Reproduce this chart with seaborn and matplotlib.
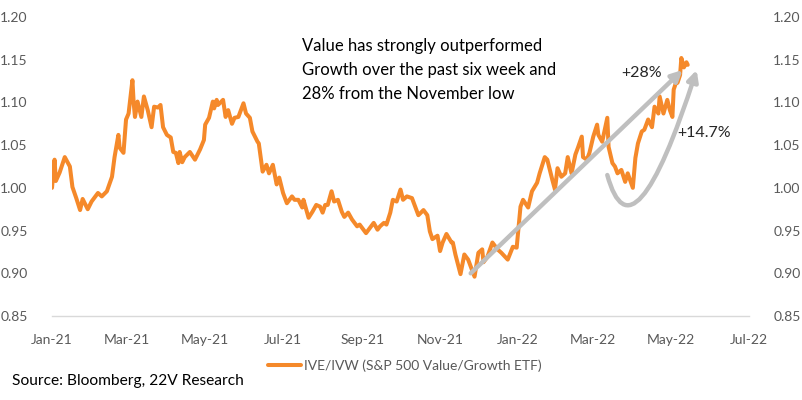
import matplotlib
matplotlib.use("Agg")
import matplotlib.pyplot as plt
import matplotlib.dates as mdates
from matplotlib.patches import FancyArrowPatch
from matplotlib.path import Path
import seaborn as sns
import pandas as pd

# IVE/IVW ratio
dates = [
    "2021-01-01", "2021-01-03", "2021-01-04", "2021-01-07", "2021-01-11", "2021-01-15",
    "2021-01-17", "2021-01-20", "2021-01-23", "2021-01-25", "2021-01-29", "2021-02-01",
    "2021-02-06", "2021-02-09", "2021-02-13", "2021-02-17", "2021-02-19", "2021-02-22",
    "2021-02-23", "2021-02-26", "2021-02-28", "2021-03-02", "2021-03-05", "2021-03-06",
    "2021-03-07", "2021-03-09", "2021-03-10", "2021-03-12", "2021-03-14", "2021-03-17",
    "2021-03-20", "2021-03-22", "2021-03-25", "2021-03-27", "2021-03-29", "2021-04-01",
    "2021-04-04", "2021-04-06", "2021-04-08", "2021-04-10", "2021-04-11", "2021-04-13",
    "2021-04-15", "2021-04-19", "2021-04-23", "2021-04-27", "2021-04-30", "2021-05-01",
    "2021-05-04", "2021-05-07", "2021-05-08", "2021-05-10", "2021-05-11", "2021-05-15",
    "2021-05-17", "2021-05-19", "2021-05-22", "2021-05-24", "2021-05-27", "2021-05-31",
    "2021-06-02", "2021-06-05", "2021-06-07", "2021-06-11", "2021-06-12", "2021-06-15",
    "2021-06-18", "2021-06-20", "2021-06-23", "2021-06-26", "2021-06-28", "2021-07-01",
    "2021-07-04", "2021-07-08", "2021-07-10", "2021-07-13", "2021-07-16", "2021-07-17",
    "2021-07-21", "2021-07-24", "2021-07-27", "2021-07-30", "2021-08-01", "2021-08-03",
    "2021-08-05", "2021-08-08", "2021-08-10", "2021-08-13", "2021-08-16", "2021-08-18",
    "2021-08-21", "2021-08-24", "2021-08-28", "2021-08-30", "2021-09-04", "2021-09-07",
    "2021-09-10", "2021-09-13", "2021-09-15", "2021-09-18", "2021-09-20", "2021-09-23",
    "2021-09-25", "2021-09-28", "2021-10-01", "2021-10-03", "2021-10-06", "2021-10-10",
    "2021-10-12", "2021-10-15", "2021-10-19", "2021-10-22", "2021-10-24", "2021-10-26",
    "2021-10-30", "2021-11-01", "2021-11-03", "2021-11-06", "2021-11-10", "2021-11-11",
    "2021-11-13", "2021-11-17", "2021-11-20", "2021-11-23", "2021-11-26", "2021-11-28",
    "2021-12-01", "2021-12-04", "2021-12-05", "2021-12-08", "2021-12-12", "2021-12-16",
    "2021-12-19", "2021-12-24", "2021-12-28", "2021-12-31", "2022-01-03", "2022-01-05",
    "2022-01-09", "2022-01-12", "2022-01-16", "2022-01-18", "2022-01-22", "2022-01-24",
    "2022-01-28", "2022-01-30", "2022-02-01", "2022-02-04", "2022-02-07", "2022-02-09",
    "2022-02-12", "2022-02-15", "2022-02-17", "2022-02-20", "2022-02-21", "2022-02-24",
    "2022-02-26", "2022-03-01", "2022-03-04", "2022-03-05", "2022-03-08", "2022-03-12",
    "2022-03-13", "2022-03-16", "2022-03-18", "2022-03-20", "2022-03-23", "2022-03-26",
    "2022-03-28", "2022-04-01", "2022-04-03", "2022-04-05", "2022-04-08", "2022-04-10",
    "2022-04-13", "2022-04-16", "2022-04-18", "2022-04-21", "2022-04-22", "2022-04-25",
    "2022-04-28", "2022-04-30", "2022-05-02", "2022-05-03", "2022-05-05", "2022-05-06",
    "2022-05-08", "2022-05-09", "2022-05-11", "2022-05-13", "2022-05-14",
]
ratio = [
    1.000, 1.033, 1.008, 1.018, 1.036, 1.025,
    1.001, 0.988, 0.974, 0.987, 0.975, 0.984,
    0.994, 0.990, 0.996, 1.013, 1.036, 1.062,
    1.047, 1.041, 1.080, 1.087, 1.126, 1.099,
    1.083, 1.101, 1.095, 1.083, 1.107, 1.091,
    1.071, 1.095, 1.094, 1.097, 1.071, 1.062,
    1.059, 1.042, 1.041, 1.029, 1.042, 1.030,
    1.036, 1.042, 1.033, 1.045, 1.056, 1.074,
    1.082, 1.101, 1.093, 1.103, 1.097, 1.103,
    1.083, 1.091, 1.075, 1.082, 1.083, 1.099,
    1.087, 1.082, 1.066, 1.054, 1.052, 1.019,
    1.027, 1.017, 1.027, 1.004, 1.012, 0.994,
    0.982, 0.990, 0.986, 0.986, 0.977, 0.986,
    0.965, 0.972, 0.980, 0.978, 0.971, 0.980,
    0.980, 0.996, 0.984, 0.986, 0.972, 0.966,
    0.971, 0.963, 0.955, 0.957, 0.947, 0.953,
    0.959, 0.951, 0.955, 0.959, 0.957, 0.971,
    0.986, 0.984, 0.998, 0.986, 0.990, 0.988,
    0.980, 0.968, 0.974, 0.968, 0.949, 0.940,
    0.944, 0.926, 0.936, 0.946, 0.936, 0.936,
    0.922, 0.899, 0.922, 0.916, 0.904, 0.896,
    0.924, 0.928, 0.913, 0.919, 0.936, 0.928,
    0.924, 0.916, 0.931, 0.930, 0.978, 0.986,
    0.977, 0.996, 1.006, 1.017, 1.036, 1.033,
    1.009, 0.998, 1.023, 1.013, 1.017, 1.036,
    1.017, 1.039, 1.047, 1.060, 1.036, 1.033,
    1.041, 1.060, 1.074, 1.062, 1.054, 1.082,
    1.048, 1.029, 1.025, 1.017, 1.021, 1.007,
    1.017, 1.000, 1.035, 1.052, 1.066, 1.068,
    1.080, 1.071, 1.095, 1.087, 1.107, 1.087,
    1.103, 1.091, 1.083, 1.115, 1.124, 1.123,
    1.132, 1.152, 1.141, 1.147, 1.144,
]
series_name = "IVE/IVW (S&P 500 Value/Growth ETF)"
y_ticks = [0.85, 0.90, 0.95, 1.00, 1.05, 1.10, 1.15, 1.20]

df = pd.DataFrame({"Date": pd.to_datetime(dates), "Ratio": ratio})

sns.set_style("white")
plt.rcParams['font.family'] = ['Lato', 'DejaVu Sans']

ORANGE = "#F5892A"
GREY = "#BFBFBF"
TICK = "#595959"

fig = plt.figure(figsize=(8.02, 4.00), dpi=100)
ax = fig.add_axes([52 / 802, 1 - 316 / 400, (749 - 52) / 802, (316 - 17) / 400])

sns.lineplot(data=df, x="Date", y="Ratio", ax=ax, color=ORANGE, linewidth=2.9,
             label=series_name)

ax.set_xlim(pd.Timestamp("2021-01-01"), pd.Timestamp("2022-07-01"))
ax.set_ylim(0.85, 1.20)
ax.set_yticks(y_ticks)
ax.set_yticklabels([f"{t:.2f}" for t in y_ticks])
ax.xaxis.set_major_locator(mdates.MonthLocator(bymonth=[1, 3, 5, 7, 9, 11]))
ax.xaxis.set_major_formatter(mdates.DateFormatter("%b-%y"))
ax.set_xlabel("")
ax.set_ylabel("")

for side in ["top", "left", "right"]:
    ax.spines[side].set_visible(False)
ax.spines["bottom"].set_color("#D9D9D9")
ax.spines["bottom"].set_linewidth(1.0)
ax.tick_params(axis="x", direction="out", length=5, width=1, color="#D9D9D9",
               labelcolor=TICK, labelsize=10, pad=8)
ax.tick_params(axis="y", left=False, right=False, labelleft=True, labelright=True,
               labelcolor=TICK, labelsize=10, pad=14)

# straight arrow, from the November low
ax.annotate("", xy=(mdates.date2num(pd.Timestamp("2022-05-10")), 1.138),
            xytext=(mdates.date2num(pd.Timestamp("2021-11-25")), 0.900),
            arrowprops=dict(arrowstyle="-|>", color=GREY, lw=3.2, mutation_scale=16,
                            shrinkA=0, shrinkB=0))

# curved arrow, from the March dip
p0 = (mdates.date2num(pd.Timestamp("2022-03-12")), 1.015)
p1 = (mdates.date2num(pd.Timestamp("2022-04-01")), 0.906)
p2 = (mdates.date2num(pd.Timestamp("2022-05-21")), 1.138)
curve = Path([p0, p1, p2], [Path.MOVETO, Path.CURVE3, Path.CURVE3])
ax.add_patch(FancyArrowPatch(path=curve, arrowstyle="-|>", color=GREY, lw=3.2,
                             mutation_scale=16, transform=ax.transData))

ax.text(pd.Timestamp("2021-07-16"), 1.175,
        "Value has strongly outperformed\nGrowth over the past six week and\n28% from the November low",
        fontsize=12, color="black", va="top", ha="left", linespacing=1.6)
ax.text(pd.Timestamp("2022-03-23"), 1.134, "+28%", fontsize=11.5, va="center", ha="left")
ax.text(pd.Timestamp("2022-05-06"), 1.064, "+14.7%", fontsize=11.5, va="center", ha="left")

leg = ax.legend(loc="center", bbox_to_anchor=(405 / 802, 1 - 366 / 400),
                bbox_transform=fig.transFigure, frameon=False, fontsize=10,
                handlelength=2.4, handletextpad=0.2)
for t in leg.get_texts():
    t.set_color(TICK)

fig.text(12 / 802, 1 - 381 / 400, "Source: Bloomberg, 22V Research",
         fontsize=11.2, va="center", ha="left", color="black")

fig.savefig("out.png", dpi=100)
